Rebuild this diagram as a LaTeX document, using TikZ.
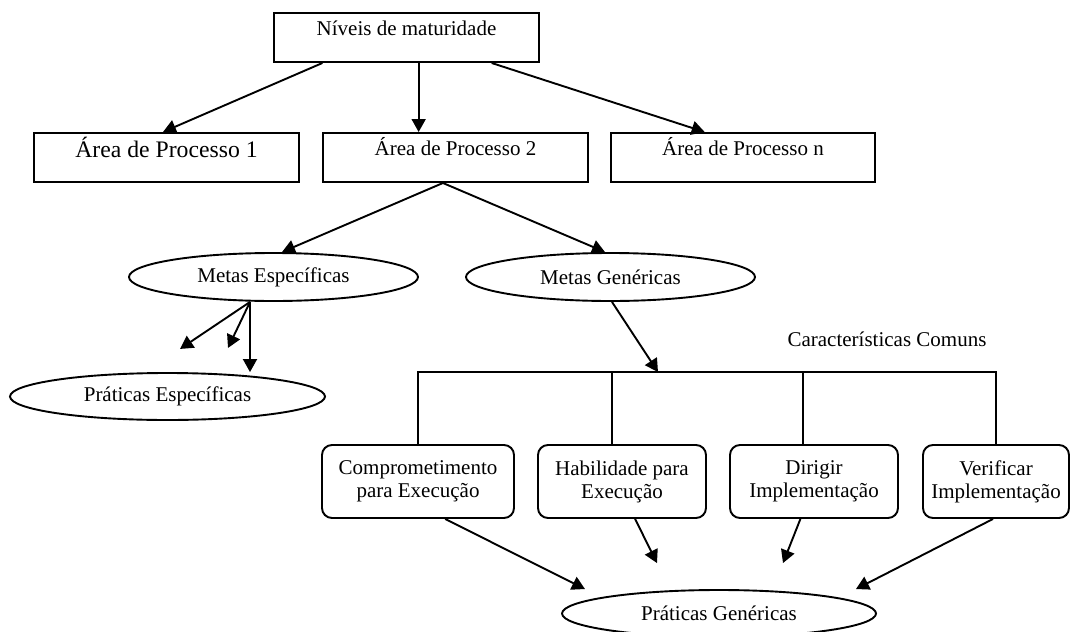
\documentclass[tikz,border=0pt]{standalone}
\usepackage{fontspec}
\setmainfont{Liberation Serif}
\usetikzlibrary{arrows.meta,shapes.geometric,calc}

\begin{document}
\begin{tikzpicture}[x=1pt,y=-1pt,
  every node/.style={font=\fontsize{21}{23}\selectfont},
  conn/.style={line width=1.9pt},
  arr/.style={conn,-{Triangle[length=13pt,width=14pt]}},
  topbox/.style={draw,line width=2pt,inner sep=0pt,minimum width=265pt,minimum height=49pt},
  oval/.style={draw,ellipse,line width=1.9pt,inner sep=0pt},
  cbox/.style={draw,rounded corners=10pt,line width=1.9pt,align=center,inner sep=0pt,minimum height=73pt}
]
\useasboundingbox (0,0) rectangle (1082,632);

% hierarchy boxes
\node[topbox,text height=22pt,text depth=27pt] (niv) at (406.5,37.5) {Níveis de maturidade};
\node[topbox,text height=24pt,text depth=25pt,font=\fontsize{23.7}{26}\selectfont] (ap1) at (166.5,157.5) {Área de Processo 1};
\node[topbox,text height=22pt,text depth=27pt] (ap2) at (455.5,157.5) {Área de Processo 2};
\node[topbox,minimum width=264pt,text height=22pt,text depth=27pt] (apn) at (743,157.5) {Área de Processo n};

% goals and practices
\node[oval,minimum width=289pt,minimum height=48pt] (me) at (273.5,277) {Metas Específicas};
\node[oval,minimum width=289pt,minimum height=48pt] (mg) at (610.5,277) {Metas Genéricas};
\node[oval,minimum width=315pt,minimum height=47pt] (pe) at (167.5,396.5) {Práticas Específicas};
\node[oval,minimum width=314pt,minimum height=47pt] (pg) at (719,613.5) {Práticas Genéricas};

% common features
\node[cbox,minimum width=192pt] (c1) at (418,481.5) {Comprometimento\\para Execução};
\node[cbox,minimum width=168pt] (c2) at (622,481.5) {Habilidade para\\Execução};
\node[cbox,minimum width=168pt] (c3) at (814,481.5) {Dirigir\\Implementação};
\node[cbox,minimum width=146pt] (c4) at (996,481.5) {Verificar\\Implementação};
\node[anchor=base] (cc) at (887,346) {Características Comuns};

% top level connectors
\draw[arr] ($(niv.south west)!0.185!(niv.south east)$) -- ($(ap1.north)+(-3.5,0)$);
\coordinate (t2) at ($(ap2.north west)!0.362!(ap2.north east)$);
\draw[arr] (t2 |- niv.south) -- (t2);
\draw[arr] ($(niv.south west)!0.819!(niv.south east)$) -- ($(apn.north west)!0.356!(apn.north east)$);

\coordinate (s2) at ($(ap2.south west)!0.453!(ap2.south east)$);
\draw[arr] (s2) -- ($(me.north)+(8.5,0)$);
\draw[arr] (s2) -- ($(mg.north)+(-5.5,0)$);

% specific goals to specific practices
\coordinate (m0) at ($(me.south)+(-23.5,0)$);
\coordinate (f1) at ($(me.south)+(-93.5,47)$);
\coordinate (f2) at ($(me.south)+(-45.5,46)$);
\draw[arr] (m0) -- (f1);
\draw[arr] (m0) -- (f2);
\draw[arr] (m0) -- (m0 |- pe.north);

% bracket over the common features
\coordinate (bar) at ($(c1.north)+(0,-72)$);
\draw[conn] (c1.north) -- (bar) -| (c4.north);
\draw[conn] ($(c2.north)+(-10,0)$) -- ++(0,-72);
\draw[conn] ($(c3.north)+(-11,0)$) -- ++(0,-72);
\draw[arr] ($(mg.south)+(1.5,0)$) -- ($(bar)+(240,0)$);

% common features to generic practices
\draw[arr] ($(c1.south west)!0.64!(c1.south east)$) -- ($(pg.north)+(-134,0)$);
\draw[arr] ($(c2.south west)!0.577!(c2.south east)$) -- ($(pg.north)+(-62,-26)$);
\draw[arr] ($(c3.south west)!0.42!(c3.south east)$) -- ($(pg.north)+(64,-26)$);
\draw[arr] ($(c4.south west)!0.48!(c4.south east)$) -- ($(pg.north)+(137,0)$);
\end{tikzpicture}
\end{document}
